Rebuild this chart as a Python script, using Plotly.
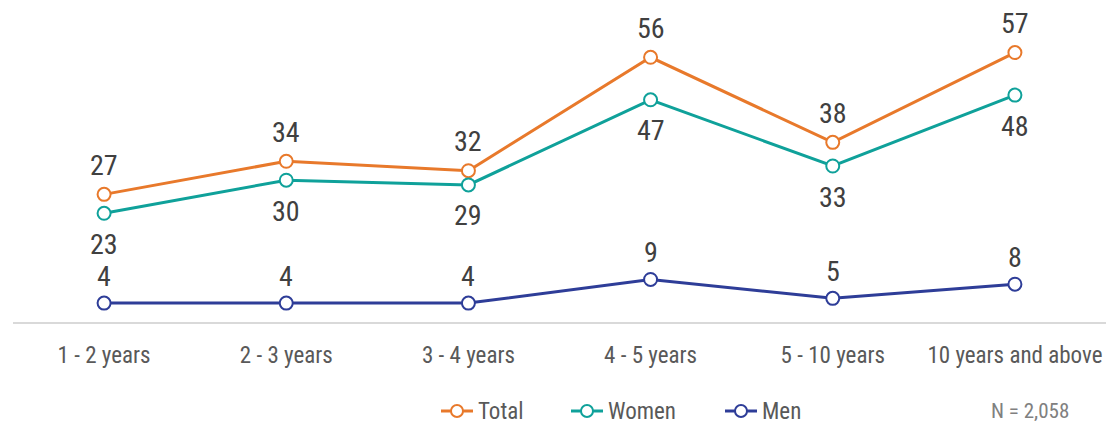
import plotly.graph_objects as go

categories = ["1 - 2 years", "2 - 3 years", "3 - 4 years", "4 - 5 years", "5 - 10 years", "10 years and above"]
total = [27, 34, 32, 56, 38, 57]
women = [23, 30, 29, 47, 33, 48]
men = [4, 4, 4, 9, 5, 8]

FONT = "Roboto Condensed"
W, H = 1110, 424
ML, MR = 13, 4
LEGEND_Y = (H - 411) / H


def paper_x(px):
    return (px - ML) / (W - ML - MR)


# name, values, colour, label offset, legend key start (px)
series = [
    ("Total", total, "#E8792B", 29, 441),
    ("Women", women, "#0FA19A", -31, 571),
    ("Men", men, "#2E3D98", 27, 725),
]

fig = go.Figure()
annotations = []
shapes = []
for name, vals, color, shift, key_x in series:
    fig.add_trace(go.Scatter(
        x=categories, y=vals, name=name, mode="lines+markers",
        line=dict(color=color, width=3),
        marker=dict(symbol="circle", size=13, color="white", line=dict(color=color, width=2)),
    ))
    for c, v in zip(categories, vals):
        annotations.append(dict(
            x=c, y=v, text=str(v), showarrow=False, yshift=shift,
            font=dict(family=FONT, size=28, color="#404040"),
        ))
    # legend key: short line with a hollow circle, then the series name
    xa = paper_x(key_x + 16)
    shapes.append(dict(
        type="line", xref="paper", yref="paper", xsizemode="pixel", ysizemode="pixel",
        xanchor=xa, yanchor=LEGEND_Y, x0=-16, x1=16, y0=0, y1=0,
        line=dict(color=color, width=3),
    ))
    shapes.append(dict(
        type="circle", xref="paper", yref="paper", xsizemode="pixel", ysizemode="pixel",
        xanchor=xa, yanchor=LEGEND_Y, x0=-6, x1=6, y0=-6, y1=6,
        fillcolor="white", line=dict(color=color, width=2),
    ))
    annotations.append(dict(
        xref="paper", yref="paper", x=paper_x(key_x + 35), y=LEGEND_Y, text=name,
        showarrow=False, xanchor="left", yanchor="middle",
        font=dict(family=FONT, size=23, color="#595959"),
    ))

annotations.append(dict(
    xref="paper", yref="paper", x=paper_x(1030), y=LEGEND_Y, text="N = 2,058", showarrow=False,
    font=dict(family=FONT, size=21, color="#808080"), xanchor="center", yanchor="middle",
))

fig.update_layout(
    width=W, height=H,
    margin=dict(l=ML, r=MR, t=0, b=0, autoexpand=False),
    paper_bgcolor="white", plot_bgcolor="white",
    font=dict(family=FONT, color="#595959"),
    showlegend=False,
    annotations=annotations,
    shapes=shapes,
)
fig.update_xaxes(
    range=[-0.5, 5.5], showgrid=False, showline=True, linecolor="#d9d9d9", linewidth=1.5,
    ticks="", tickfont=dict(family=FONT, size=23, color="#595959"), ticklabelstandoff=12,
    zeroline=False, anchor="y",
)
fig.update_yaxes(range=[0, 66], domain=[1 - 322 / H, 1 - 10 / H],
                 visible=False, showgrid=False, zeroline=False)

fig.write_html("out.html")
